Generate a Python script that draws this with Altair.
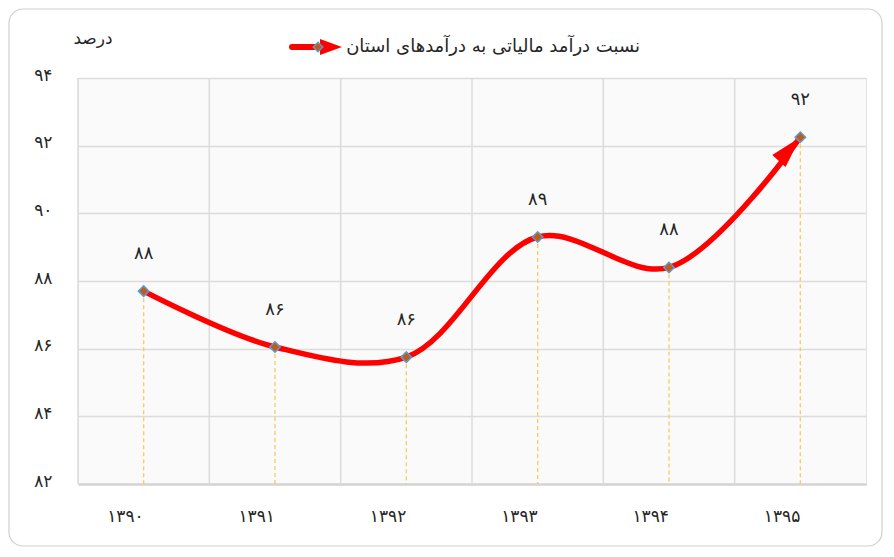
import altair as alt
import pandas as pd

# ---- data ----
years = ["۱۳۹۰", "۱۳۹۱", "۱۳۹۲", "۱۳۹۳", "۱۳۹۴", "۱۳۹۵"]
values = [87.7, 86.05, 85.75, 89.3, 88.4, 92.25]
value_labels = ["۸۸", "۸۶", "۸۶", "۸۹", "۸۸", "۹۲"]
y_ticks = [82, 84, 86, 88, 90, 92, 94]
y_tick_labels = ["۸۲", "۸۴", "۸۶", "۸۸", "۹۰", "۹۲", "۹۴"]
series_name = "نسبت درآمد مالیاتی به درآمدهای استان"
y_title = "درصد"

W, H = 788, 406
FONT = "DejaVu Sans"
TXT = "#262626"
GRID = "#dcdcdc"
ARROW = "M0,0L-0.28,1L0.28,1Z"

df = pd.DataFrame({"year": years, "value": values, "label": value_labels})
one = pd.DataFrame({"t": [series_name], "yt": [y_title]})

label_expr = " : ".join(
    f"datum.value == {v} ? '{l}'" for v, l in zip(y_ticks, y_tick_labels)
) + " : ''"

x_scale = alt.Scale(type="band", paddingInner=0, paddingOuter=0)
x_enc = alt.X(
    "year:N", sort=None, scale=x_scale,
    axis=alt.Axis(title=None, labelAngle=0, domain=True, domainColor="#d4d4d4",
                  domainWidth=2.5, ticks=False, grid=False, labelPadding=32,
                  labelFontSize=17, labelColor=TXT, labelFont=FONT),
)
y_enc = alt.Y(
    "value:Q",
    scale=alt.Scale(domain=[82, 94], nice=False, zero=False),
    axis=alt.Axis(title=None, values=y_ticks, labelExpr=label_expr, grid=True,
                  gridColor=GRID, gridWidth=1.5, domain=False, ticks=False,
                  labelPadding=26, labelFontSize=17, labelColor=TXT,
                  labelFont=FONT, labelOffset=-3),
)

base = alt.Chart(df)

frame = alt.Chart(one).mark_rect(
    cornerRadius=14, fillOpacity=0, stroke="#d0d0d0", strokeWidth=1.2
).encode(x=alt.value(-69), x2=alt.value(W + 16), y=alt.value(-69), y2=alt.value(H + 62))

vgrid = base.mark_rule(color=GRID, strokeWidth=1.5).encode(
    x=alt.X("year:N", sort=None, scale=x_scale, bandPosition=0),
    y=alt.value(0), y2=alt.value(H),
)

drops = base.mark_rule(color="#f9cc5e", strokeWidth=1.3, strokeDash=[4, 3]).encode(
    x=x_enc, y=y_enc, y2=alt.value(H)
)

line = base.mark_line(interpolate="catmull-rom", color="#ff0000", strokeWidth=5.5).encode(
    x=x_enc, y=y_enc
)

arrow = base.transform_filter(alt.datum.year == years[-1]).mark_point(
    shape=ARROW, angle=42, filled=True, color="#ff0000", size=4100, opacity=1
).encode(x=x_enc, y=y_enc)

pts = base.mark_point(
    shape="diamond", filled=True, fill="#c55a11", stroke="#5b9bd5",
    strokeWidth=1.5, size=110, opacity=1
).encode(x=x_enc, y=y_enc)

labels = base.mark_text(dy=-37, fontSize=18, font=FONT, color=TXT).encode(
    x=x_enc, y=y_enc, text="label:N"
)

leg_text = alt.Chart(one).mark_text(
    align="right", baseline="middle", fontSize=18, font=FONT, color=TXT
).encode(x=alt.value(562), y=alt.value(-31), text="t:N")
leg_line = alt.Chart(one).mark_rule(color="#ff0000", strokeWidth=6, strokeCap="round").encode(
    x=alt.value(214), x2=alt.value(252), y=alt.value(-31)
)
leg_arrow = alt.Chart(one).mark_point(
    shape="M0,0L-0.36,1L0.36,1Z", angle=90, filled=True, color="#ff0000",
    size=1936, opacity=1
).encode(x=alt.value(264), y=alt.value(-31))
leg_diamond = alt.Chart(one).mark_point(
    shape="diamond", filled=True, fill="#c55a11", stroke="#5b9bd5",
    strokeWidth=1.5, size=90, opacity=1
).encode(x=alt.value(240), y=alt.value(-31))

ytitle = alt.Chart(one).mark_text(
    align="center", baseline="middle", fontSize=17, font=FONT, color=TXT
).encode(x=alt.value(15), y=alt.value(-39), text="yt:N")

chart = alt.layer(
    frame, vgrid, drops, line, arrow, pts, labels,
    leg_line, leg_arrow, leg_diamond, leg_text, ytitle
).properties(
    width=W, height=H,
    padding={"left": 70, "top": 70, "right": 20, "bottom": 64},
    autosize=alt.AutoSizeParams(type="none"),
    background="white",
).configure_view(stroke="#e3e3e3", fill="#fafafa")

chart.save("out.html", embed_options={"renderer": "svg", "actions": False})
